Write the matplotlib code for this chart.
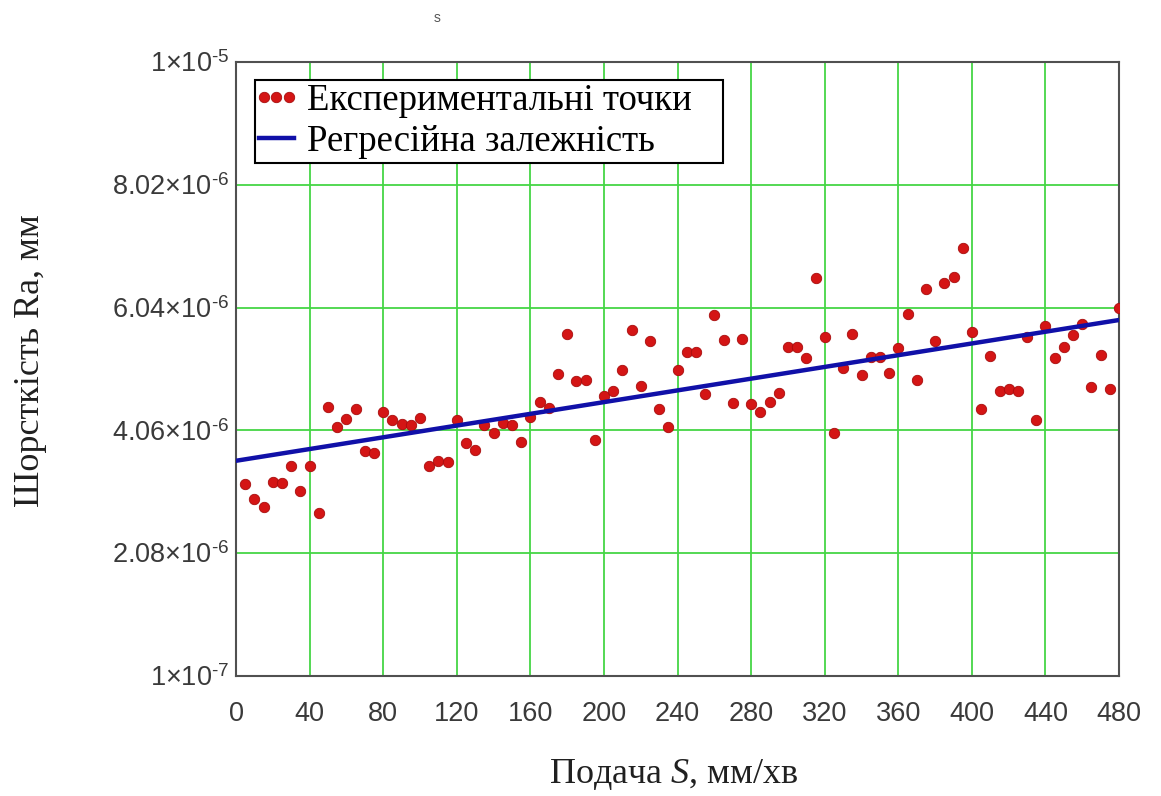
import matplotlib.pyplot as plt
from matplotlib.legend_handler import HandlerLine2D
import numpy as np

plt.rcParams['mathtext.fontset'] = 'custom'
plt.rcParams['mathtext.rm'] = 'Liberation Sans'
plt.rcParams['mathtext.it'] = 'Liberation Serif:italic'

# feed S, mm/min
feed = [5, 10, 15, 20, 25, 30, 35, 40, 45, 50, 55, 60,
        65, 70, 75, 80, 85, 90, 95, 100, 105, 110, 115, 120,
        125, 130, 135, 140, 145, 150, 155, 160, 165, 170, 175, 180,
        185, 190, 195, 200, 205, 210, 215, 220, 225, 230, 235, 240,
        245, 250, 255, 260, 265, 270, 275, 280, 285, 290, 295, 300,
        305, 310, 315, 320, 325, 330, 335, 340, 345, 350, 355, 360,
        365, 370, 375, 380, 385, 390, 395, 400, 405, 410, 415, 420,
        425, 430, 435, 440, 445, 450, 455, 460, 465, 470, 475, 480]

# roughness Ra, x1e-6 mm
ra_e6 = [3.19, 2.95, 2.83, 3.23, 3.21, 3.48, 3.08, 3.49, 2.72, 4.44, 4.12, 4.24,
         4.41, 3.73, 3.70, 4.35, 4.23, 4.17, 4.14, 4.26, 3.48, 3.57, 3.55, 4.23,
         3.86, 3.75, 4.14, 4.02, 4.18, 4.14, 3.88, 4.28, 4.52, 4.42, 4.97, 5.62,
         4.86, 4.87, 3.90, 4.61, 4.70, 5.03, 5.68, 4.78, 5.50, 4.41, 4.11, 5.04,
         5.32, 5.32, 4.65, 5.92, 5.52, 4.50, 5.54, 4.49, 4.36, 4.52, 4.67, 5.41,
         5.40, 5.23, 6.51, 5.56, 4.02, 5.06, 5.62, 4.96, 5.25, 5.25, 4.99, 5.39,
         5.94, 4.87, 6.34, 5.50, 6.43, 6.54, 7.00, 5.65, 4.41, 5.26, 4.70, 4.73,
         4.70, 5.56, 4.23, 5.74, 5.22, 5.41, 5.60, 5.78, 4.76, 5.27, 4.73, 6.03]

# regression line end points
reg_feed = [0, 480]
reg_ra = [3.57e-6, 5.84e-6]

x_ticks = [0, 40, 80, 120, 160, 200, 240, 280, 320, 360, 400, 440, 480]
y_ticks = [1e-7, 2.08e-6, 4.06e-6, 6.04e-6, 8.02e-6, 1e-5]
y_labels = [r'1×10$^{\text{-7}}$', r'2.08×10$^{\text{-6}}$', r'4.06×10$^{\text{-6}}$',
            r'6.04×10$^{\text{-6}}$', r'8.02×10$^{\text{-6}}$', r'1×10$^{\text{-5}}$']

ra = np.array(ra_e6) * 1e-6

fig = plt.figure(figsize=(11.61, 7.96), dpi=100)
ax = fig.add_axes([0.2033, 0.1508, 0.7606, 0.7713])

pts, = ax.plot(feed, ra, 'o', ms=7.5, color='#d41515', mec='#a80c0c', mew=0.6,
               zorder=3, label='Експериментальні точки   ')
reg, = ax.plot(reg_feed, reg_ra, '-', lw=3.2, color='#1010a8', zorder=4,
               label='Регресійна залежність')

ax.set_xlim(0, 480)
ax.set_ylim(1e-7, 1e-5)
ax.set_xticks(x_ticks)
ax.set_yticks(y_ticks)
ax.set_yticklabels(y_labels)
ax.grid(True, color='#45d645', lw=1.3, zorder=0)
ax.set_axisbelow(True)

ax.tick_params(length=0, labelsize=19.5, labelcolor='#3a3a3a', labelfontfamily='Liberation Sans')
ax.tick_params(axis='x', pad=18)
ax.tick_params(axis='y', pad=5)
for sp in ax.spines.values():
    sp.set_color('#505050')
    sp.set_linewidth(1.5)

leg = ax.legend(loc='upper left', bbox_to_anchor=(0.0215, 0.971), numpoints=3,
                markerscale=1.0, handlelength=0.95, handletextpad=0.35,
                borderpad=0.1, labelspacing=0.18, borderaxespad=0,
                fancybox=False, framealpha=1, edgecolor='black',
                handler_map={pts: HandlerLine2D(marker_pad=0.14), reg: HandlerLine2D(marker_pad=0)},
                prop={'family': 'Liberation Serif', 'size': 26.5})
leg.get_frame().set_linewidth(1.5)

fig.text(674 / 1161, 1 - 775 / 796, 'Подача $\\mathit{S}$, мм/хв', ha='center', va='center',
         fontsize=26, family='Liberation Serif', color='#202020')
fig.text(31 / 1161, 1 - 361 / 796, 'Шорсткість Ra, мм', ha='center', va='center',
         rotation=90, fontsize=26, family='Liberation Serif', color='#202020')
fig.text(437 / 1161, 1 - 18 / 796, 's', ha='center', va='center',
         fontsize=10, family='Liberation Sans', color='#555555')

fig.savefig('out.png', dpi=100)
